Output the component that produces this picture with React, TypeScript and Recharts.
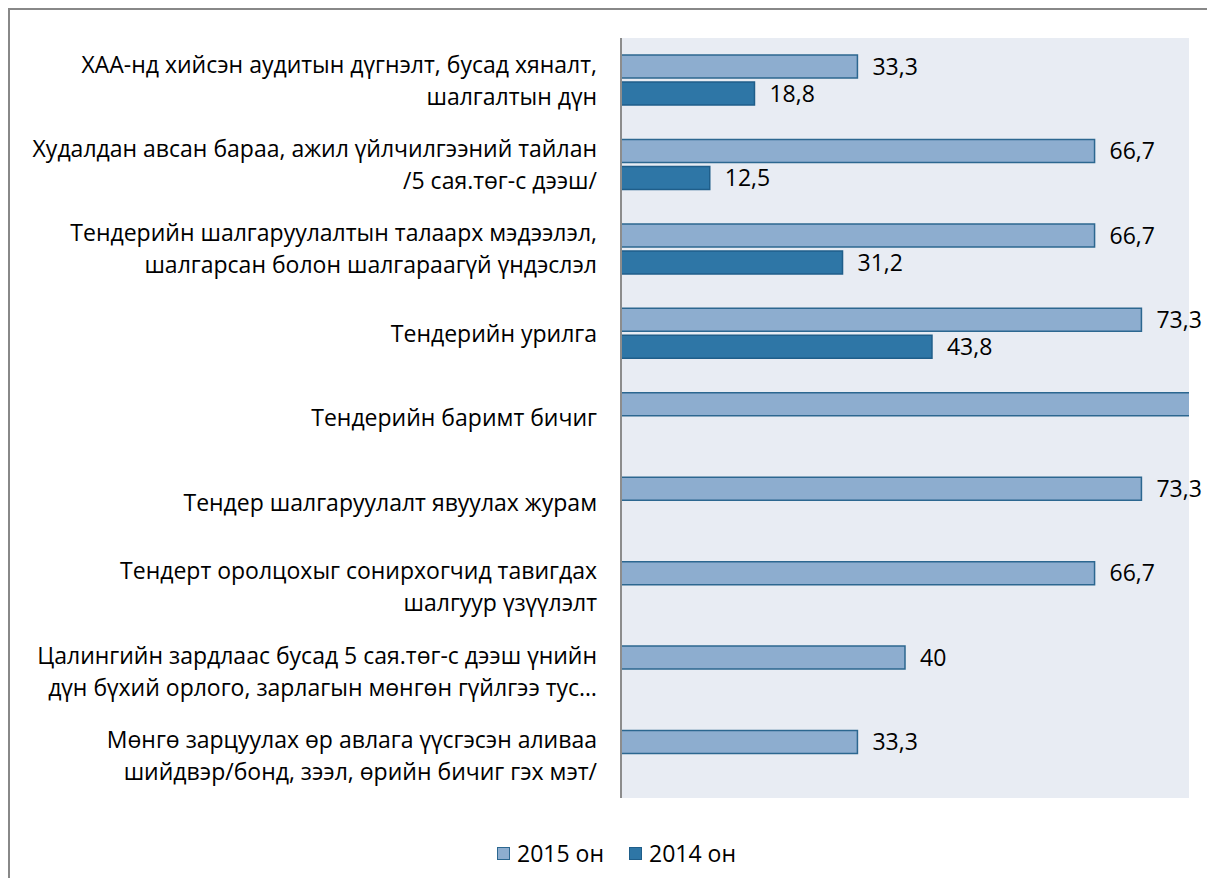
import React from 'react';
import { BarChart, Bar, XAxis, YAxis, CartesianGrid, LabelList, Legend } from 'recharts';

const categories = [
  'ХАА-нд хийсэн аудитын дүгнэлт, бусад хяналт,\nшалгалтын дүн',
  'Худалдан авсан бараа, ажил үйлчилгээний тайлан\n/5 сая.төг-с дээш/',
  'Тендерийн шалгаруулалтын талаарх мэдээлэл,\nшалгарсан болон шалгараагүй үндэслэл',
  'Тендерийн урилга',
  'Тендерийн баримт бичиг',
  'Тендер шалгаруулалт явуулах журам',
  'Тендерт оролцохыг сонирхогчид тавигдах\nшалгуур үзүүлэлт',
  'Цалингийн зардлаас бусад 5 сая.төг-с дээш үнийн\nдүн бүхий орлого, зарлагын мөнгөн гүйлгээ тус…',
  'Мөнгө зарцуулах өр авлага үүсгэсэн аливаа\nшийдвэр/бонд, зээл, өрийн бичиг гэх мэт/',
];
const values2015 = [33.3, 66.7, 66.7, 73.3, 100, 73.3, 66.7, 40, 33.3];
const values2014: (number | null)[] = [18.8, 12.5, 31.2, 43.8, null, null, null, null, null];
const seriesNames = ['2015 он', '2014 он'];

const X_MAX = 80;
const FONT = '"Open Sans", sans-serif';
const FONT_SIZE = 23;
const colors = {
  y2015: '#8dadcf',
  y2015Stroke: '#2c6790',
  y2014: '#2e76a6',
  y2014Stroke: '#1f5e8a',
  plotBg: '#e8ecf3',
};

const data = categories.map((name, i) => ({
  name,
  y2015: values2015[i],
  y2014: values2014[i],
}));

const CategoryTick = (props: any) => {
  const { x, y, payload } = props;
  const lines = String(payload.value).split('\n');
  const lh = 32;
  const start = y - ((lines.length - 1) * lh) / 2;
  return (
    <text textAnchor="end" fontSize={FONT_SIZE} fontFamily={FONT} fill="#000">
      {lines.map((l, i) => (
        <tspan key={i} x={x} y={start + i * lh} dy="0.36em">{l}</tspan>
      ))}
    </text>
  );
};

const ValueLabel = (props: any) => {
  const { x, y, width, height, value } = props;
  // bars past the axis max are clipped, Excel hid their labels too
  if (value == null || value > X_MAX) return null;
  return (
    <text x={x + width + 15} y={y + height / 2} dy="0.36em" fontSize={FONT_SIZE} fontFamily={FONT} fill="#000">
      {String(value).replace('.', ',')}
    </text>
  );
};

const LegendContent = () => (
  <div style={{ display: 'flex', justifyContent: 'center', alignItems: 'center', height: 30, paddingLeft: 34, fontFamily: FONT, fontSize: FONT_SIZE }}>
    {[
      { label: seriesNames[0], fill: colors.y2015, stroke: colors.y2015Stroke },
      { label: seriesNames[1], fill: colors.y2014, stroke: colors.y2014Stroke },
    ].map((it, i) => (
      <div key={i} style={{ display: 'flex', alignItems: 'center', marginLeft: i ? 25 : 0 }}>
        <span style={{ display: 'inline-block', width: 11, height: 11, background: it.fill, border: `1.5px solid ${it.stroke}`, marginRight: 7 }} />
        <span>{it.label}</span>
      </div>
    ))}
  </div>
);

export default function App() {
  return (
    <div style={{ width: 1205, height: 868, borderTop: '2px solid #888', borderLeft: '2px solid #888', background: '#fff' }}>
      <BarChart
        width={1205}
        height={866}
        data={data}
        layout="vertical"
        margin={{ top: 28, right: 26, bottom: 48, left: 0 }}
        barSize={23}
        barGap={4}
      >
        <CartesianGrid fill={colors.plotBg} horizontal={false} vertical={false} />
        <XAxis type="number" domain={[0, X_MAX]} allowDataOverflow hide />
        <YAxis
          type="category"
          dataKey="name"
          width={611}
          interval={0}
          tickLine={false}
          tickSize={0}
          tickMargin={24}
          axisLine={{ stroke: '#8c8c8c', strokeWidth: 2 }}
          tick={<CategoryTick />}
        />
        <Legend verticalAlign="bottom" content={<LegendContent />} wrapperStyle={{ bottom: 8 }} />
        <Bar dataKey="y2015" name={seriesNames[0]} fill={colors.y2015} stroke={colors.y2015Stroke} strokeWidth={1.5} isAnimationActive={false}>
          <LabelList dataKey="y2015" content={<ValueLabel />} />
        </Bar>
        <Bar dataKey="y2014" name={seriesNames[1]} fill={colors.y2014} stroke={colors.y2014Stroke} strokeWidth={1.5} isAnimationActive={false}>
          <LabelList dataKey="y2014" content={<ValueLabel />} />
        </Bar>
      </BarChart>
    </div>
  );
}
